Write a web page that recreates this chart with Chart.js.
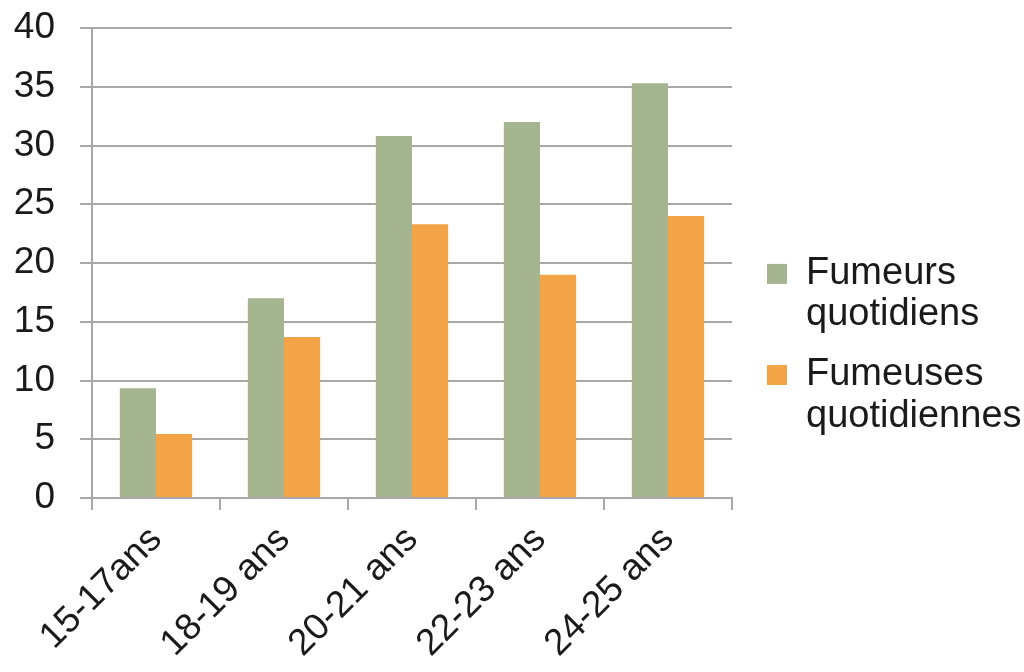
<!DOCTYPE html>
<html lang="fr">
<head>
<meta charset="utf-8">
<title>Fumeurs quotidiens par âge</title>
<script src="https://cdn.jsdelivr.net/npm/chart.js@4.4.1/dist/chart.umd.min.js"></script>
<style>
  html, body { margin: 0; padding: 0; background: #fff; }
  #wrap { width: 1024px; height: 672px; }
</style>
</head>
<body>
<div id="wrap"><canvas id="fumeursChart" width="1024" height="672"></canvas></div>
<script>
// --- Données ---
const ages = ['15-17ans', '18-19 ans', '20-21 ans', '22-23 ans', '24-25 ans'];
const fumeurs = [9.35, 17.0, 30.8, 32.0, 35.3];
const fumeuses = [5.45, 13.7, 23.3, 19.0, 24.0];
const seriesLabels = ['Fumeurs quotidiens', 'Fumeuses quotidiennes'];
const yTicks = [0, 5, 10, 15, 20, 25, 30, 35, 40];

const grisGrille = '#a8a8a8';
const police = 'Liberation Sans, Arial, sans-serif';

// décale la légende (et sa zone de clip) un peu vers la droite / le haut
const legendShift = {
    id: 'legendShift',
    afterLayout(chart) {
        const lg = chart.legend;
        lg.left += 16;
        lg.right = chart.width;
        lg.top -= 7;
        lg.bottom = chart.height;
    }
};

new Chart(document.getElementById('fumeursChart').getContext('2d'), {
    type: 'bar',
    data: {
        labels: ages,
        datasets: [{
            label: seriesLabels[0],
            data: fumeurs,
            backgroundColor: '#a4b58f',
            categoryPercentage: 0.565,
            barPercentage: 1.0
        }, {
            label: seriesLabels[1],
            data: fumeuses,
            backgroundColor: '#f2a446',
            categoryPercentage: 0.565,
            barPercentage: 1.0
        }]
    },
    options: {
        responsive: false,
        animation: false,
        layout: {
            padding: { top: 28, right: 48, bottom: 0, left: 0 }
        },
        plugins: {
            tooltip: { enabled: false },
            legend: {
                position: 'right',
                labels: {
                    boxWidth: 20,
                    boxHeight: 20,
                    padding: 19,
                    color: '#1a1a1a',
                    font: { family: police, size: 38, lineHeight: 1.08 },
                    generateLabels(chart) {
                        const items = Chart.defaults.plugins.legend.labels.generateLabels(chart);
                        items.forEach(it => { it.text = it.text.split(' '); });
                        return items;
                    }
                }
            }
        },
        scales: {
            x: {
                grid: {
                    offset: true,
                    drawOnChartArea: false,
                    drawTicks: true,
                    tickLength: 12,
                    color: grisGrille,
                    lineWidth: 2
                },
                border: { color: grisGrille, width: 2 },
                ticks: {
                    color: '#1a1a1a',
                    font: { family: police, size: 37 },
                    minRotation: 45,
                    maxRotation: 45,
                    padding: 8
                },
                afterFit(scale) { scale.height = 174; }
            },
            y: {
                min: 0,
                max: 40,
                afterBuildTicks(scale) {
                    scale.ticks = yTicks.map(v => ({ value: v }));
                },
                grid: {
                    color: grisGrille,
                    lineWidth: 2,
                    tickLength: 12
                },
                border: { color: grisGrille, width: 2 },
                ticks: {
                    color: '#1a1a1a',
                    font: { family: police, size: 37 },
                    padding: 25
                },
                afterFit(scale) {
                    scale.width = 92;
                    scale.paddingTop = 0;
                    scale.paddingBottom = 0;
                }
            }
        }
    },
    plugins: [legendShift]
});
</script>
</body>
</html>
